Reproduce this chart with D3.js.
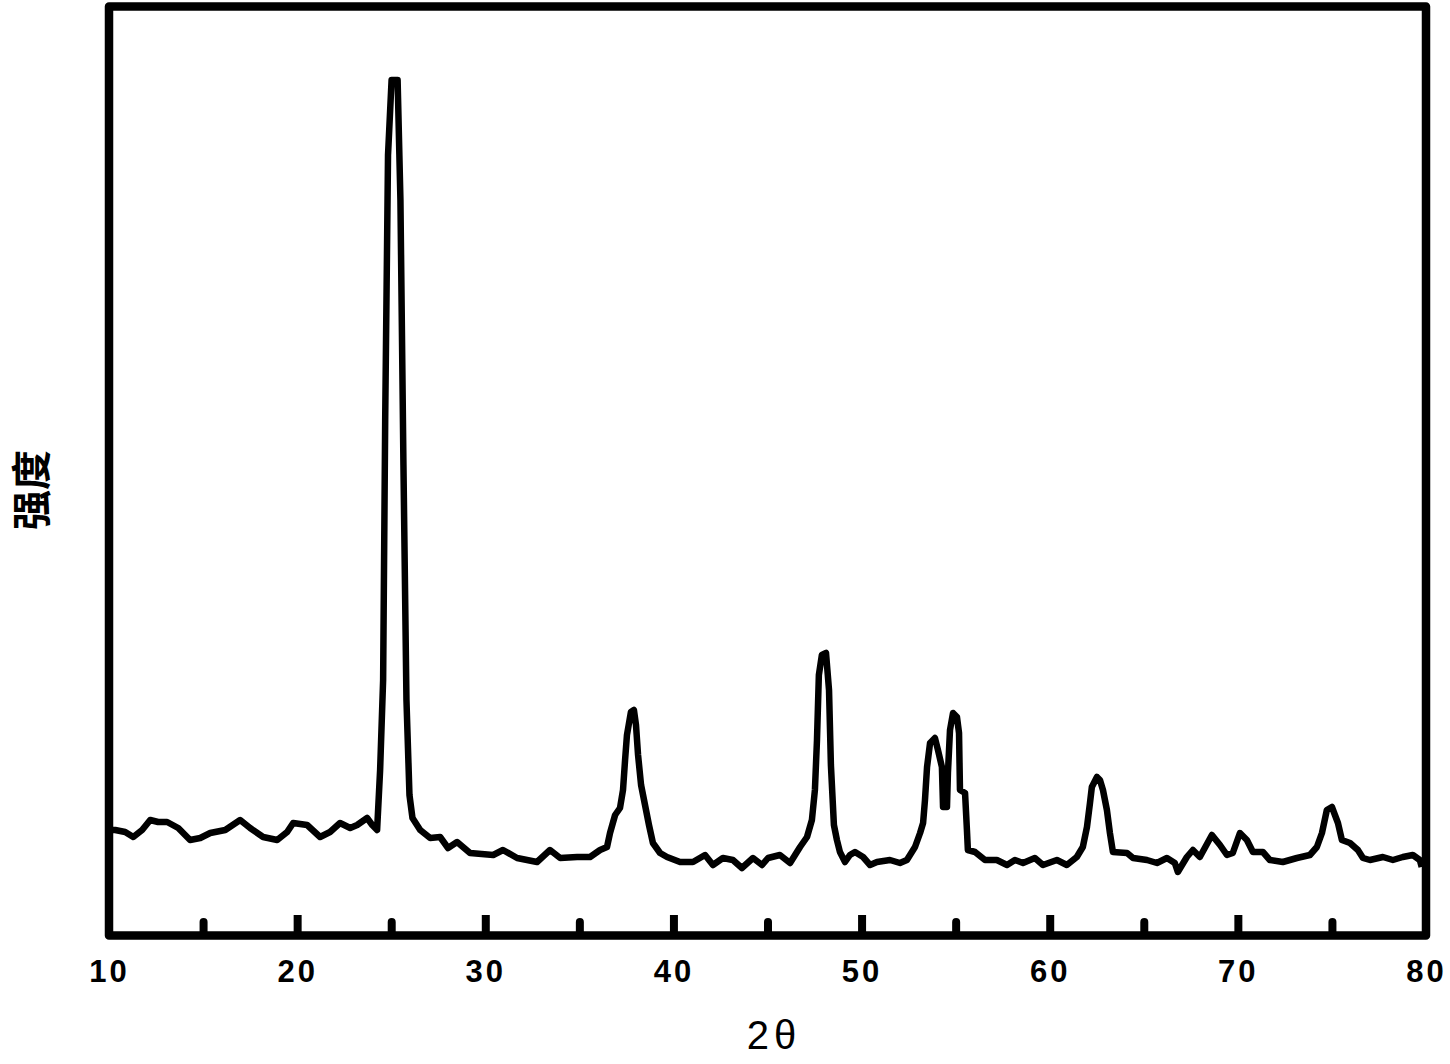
<!DOCTYPE html>
<html><head><meta charset="utf-8">
<script src="https://cdn.jsdelivr.net/npm/d3@7"></script>
<style>body{margin:0;background:#fff}svg{display:block}</style>
</head><body>
<script>
const twoTheta = [10.12,10.33,10.86,11.29,11.76,12.19,12.61,13.09,13.68,14.31,14.85,15.38,16.18,16.97,17.50,18.19,18.94,19.47,19.79,20.53,21.22,21.75,22.28,22.82,23.19,23.72,23.99,24.25,24.41,24.57,24.68,24.83,25.02,25.34,25.49,25.65,25.81,25.97,26.13,26.54,27.07,27.60,28.02,28.50,29.19,30.42,30.94,31.69,32.75,33.44,33.98,34.88,35.57,36.10,36.47,36.63,36.90,37.16,37.32,37.43,37.53,37.74,37.90,38.01,38.12,38.28,38.49,38.70,38.91,39.29,39.66,40.35,41.04,41.68,42.10,42.63,43.16,43.64,44.23,44.71,45.03,45.66,46.20,46.73,47.10,47.36,47.52,47.63,47.73,47.89,48.11,48.27,48.37,48.53,48.69,48.85,49.12,49.38,49.65,50.08,50.45,50.82,51.51,52.04,52.41,52.84,53.11,53.27,53.37,53.48,53.64,53.90,54.06,54.27,54.33,54.54,54.59,54.70,54.86,55.07,55.18,55.23,55.50,55.60,55.65,56.03,56.56,57.19,57.73,58.15,58.58,59.21,59.64,60.38,60.91,61.44,61.76,61.98,62.14,62.24,62.51,62.67,62.83,63.04,63.20,63.36,64.11,64.43,65.17,65.70,66.23,66.65,66.81,67.29,67.61,67.98,68.62,69.05,69.42,69.73,70.11,70.48,70.80,71.33,71.70,72.39,73.14,73.83,74.20,74.47,74.73,75.00,75.16,75.32,75.53,75.96,76.38,76.65,77.02,77.71,78.24,78.77,79.30,79.67,79.77];
const intensity = [105,105,103,98,105,115,113,113,107,95,97,102,105,115,107,98,95,103,112,110,98,103,112,107,110,117,110,105,165,255,515,780,855,855,735,470,235,140,117,105,97,98,87,93,82,80,85,77,73,85,77,78,78,85,88,102,120,127,145,175,200,223,225,210,180,150,130,110,92,82,78,73,73,80,70,77,75,67,77,70,77,80,72,88,98,115,145,195,260,280,282,245,170,110,95,83,73,80,83,78,70,73,75,72,75,88,102,112,135,168,192,197,185,168,128,128,162,205,222,218,202,145,142,105,85,83,75,75,70,75,72,77,70,75,70,78,88,108,132,148,158,155,145,125,102,83,82,77,75,72,77,72,63,78,85,78,100,90,80,82,102,95,83,83,75,73,77,80,88,102,125,128,120,112,95,92,85,77,75,78,75,78,80,75,68];
const majorTicks = [10,20,30,40,50,60,70,80];
const minorTicks = [15,25,35,45,55,65,75];
const xLabel = "2θ";
const yLabel = "强度";

const W = 1450, H = 1064;
const svg = d3.select("body").append("svg").attr("width", W).attr("height", H);
const x = d3.scaleLinear().domain([10, 80]).range([109, 1426]);
const y = d3.scaleLinear().domain([0, 930]).range([935, 5]);
const data = twoTheta.map((v, i) => [v, intensity[i]]);

// curve
svg.append("path").datum(data)
  .attr("d", d3.line().x(d => x(d[0])).y(d => y(d[1])))
  .attr("fill", "none").attr("stroke", "#000").attr("stroke-width", 6.5)
  .attr("stroke-linejoin", "round");

// frame
svg.append("rect").attr("x", 109).attr("y", 6.5).attr("width", 1426 - 109).attr("height", 935.5 - 6.5)
  .attr("fill", "none").attr("stroke", "#000").attr("stroke-width", 8.5).attr("stroke-linejoin", "round");

// minor ticks
const minorAxis = d3.axisBottom(x).tickValues(minorTicks).tickSizeInner(-13).tickSizeOuter(0).tickFormat("");
const gm = svg.append("g").attr("transform", "translate(0,935)").call(minorAxis);
gm.select(".domain").remove();
gm.selectAll(".tick line").attr("stroke", "#000").attr("stroke-width", 8).attr("stroke-linecap", "round");

// major ticks + labels
const majorAxis = d3.axisBottom(x).tickValues(majorTicks).tickSizeInner(-20).tickSizeOuter(0).tickPadding(25).tickFormat(d3.format("d"));
const g = svg.append("g").attr("transform", "translate(0,935)").call(majorAxis);
g.select(".domain").remove();
g.selectAll(".tick line").attr("stroke", "#000").attr("stroke-width", 8)
  .filter(d => d === 10 || d === 80).remove();
g.selectAll(".tick text").attr("fill", "#000")
  .style("font-family", "'Liberation Sans', Arial, sans-serif").style("font-weight", "bold")
  .style("font-size", "31px").style("letter-spacing", "3px");

// x label
svg.append("text").attr("x", 774).attr("y", 1049).attr("text-anchor", "middle")
  .style("font-family", "'Liberation Sans', Arial, sans-serif").style("font-size", "40px")
  .style("letter-spacing", "5px").text(xLabel);

// y label
svg.append("text").attr("transform", "translate(46,490) rotate(-90)").attr("text-anchor", "middle")
  .style("font-family", "'Noto Sans CJK SC', sans-serif").style("font-weight", "bold")
  .style("font-size", "40px").text(yLabel);
</script>
</body></html>
